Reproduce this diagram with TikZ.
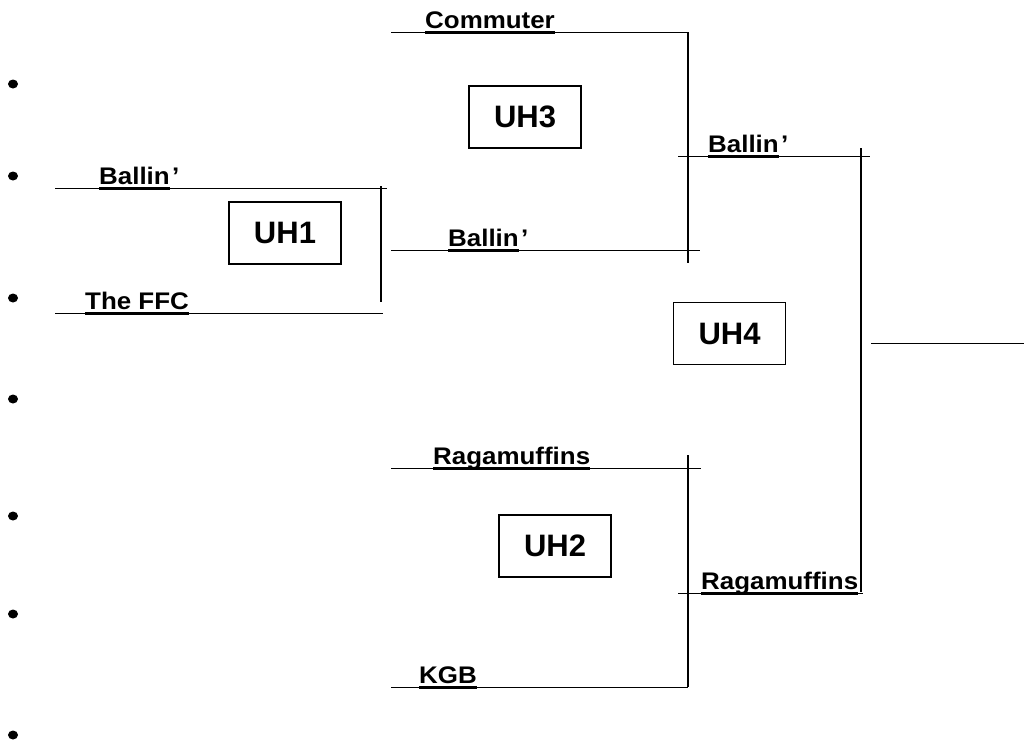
\documentclass[tikz,border=0pt]{standalone}
\usepackage{fontspec}
\setmainfont{Liberation Sans}
\newfontfamily\teamfont[FakeStretch=1.08]{Liberation Sans}
\usetikzlibrary{positioning}
\usetikzlibrary{shapes.geometric}

\begin{document}
\begin{tikzpicture}[x=1pt,y=-1pt,
  rule/.style={line width=0.8pt},
  bar/.style={line width=1.5pt},
  uline/.style={line width=3pt},
  team/.style={anchor=base west,inner sep=0pt,font=\teamfont\bfseries\fontsize{24}{28}\selectfont},
  uhbox/.style={draw,line width=1.2pt,minimum width=112pt,minimum height=62pt,inner sep=0pt,font=\bfseries\fontsize{31}{36}\selectfont},
  dot/.style={ellipse,fill,inner sep=0pt,minimum width=10pt,minimum height=9pt}]
  \useasboundingbox (0,0) rectangle (1024,747);

  % bullets down the left
  \node[dot, name=d1] at (13,84) {};
  \node[dot, name=d2] at (13,176) {};
  \node[dot, name=d3] at (13,298) {};
  \node[dot, name=d4] at (13,399) {};
  \node[dot, name=d5] at (13,516) {};
  \node[dot, name=d6] at (13,614) {};
  \node[dot, name=d7] at (13,735) {};

  % line ends
  \coordinate (l1w) at (55,188);   \coordinate (l1e) at (387,188);
  \coordinate (l2w) at (55,313);   \coordinate (l2e) at (383,313);
  \coordinate (l3w) at (391,32);   \coordinate (l3e) at (688,32);
  \coordinate (l4w) at (391,250);  \coordinate (l4e) at (700,250);
  \coordinate (l5w) at (678,156);  \coordinate (l5e) at (870,156);
  \coordinate (l6w) at (391,468);  \coordinate (l6e) at (701,468);
  \coordinate (l7w) at (678,593);  \coordinate (l7e) at (863,593);
  \coordinate (l8w) at (391,687);  \coordinate (l8e) at (688,687);
  \coordinate (l9w) at (871,343);  \coordinate (l9e) at (1024,343);

  \coordinate (v1t) at (381,186);  \coordinate (v1b) at (381,302);
  \coordinate (v2t) at (688,32);   \coordinate (v2b) at (688,263);
  \coordinate (v3t) at (688,455);  \coordinate (v3b) at (688,687);
  \coordinate (v4t) at (861,148);  \coordinate (v4b) at (861,592);

  \draw[rule] (l1w) -- (l1e);
  \draw[rule] (l2w) -- (l2e);
  \draw[rule] (l3w) -- (l3e);
  \draw[rule] (l4w) -- (l4e);
  \draw[rule] (l5w) -- (l5e);
  \draw[rule] (l6w) -- (l6e);
  \draw[rule] (l7w) -- (l7e);
  \draw[rule] (l8w) -- (l8e);
  \draw[rule] (l9w) -- (l9e);

  \draw[bar] (v1t) -- (v1b);
  \draw[bar] (v2t) -- (v2b);
  \draw[bar] (v3t) -- (v3b);
  \draw[bar] (v4t) -- (v4b);

  % team names
  \node[team, name=t1] at (99,184) {Ballin};
  \node[team, name=t1a] at ([xshift=2pt]t1.base east) {’};
  \node[team, name=t2] at (85,309) {The FFC};
  \node[team, name=t3] at (425,28) {Commuter};
  \node[team, name=t4] at (448,246) {Ballin};
  \node[team, name=t4a] at ([xshift=2pt]t4.base east) {’};
  \node[team, name=t5] at (708,152) {Ballin};
  \node[team, name=t5a] at ([xshift=2pt]t5.base east) {’};
  \node[team, name=t6] at (433,464) {Ragamuffins};
  \node[team, name=t7] at (701,589) {Ragamuffins};
  \node[team, name=t8] at (419,683) {KGB};

  \draw[uline] (t1.base west |- l1w) -- (t1.base east |- l1w);
  \draw[uline] (t2.base west |- l2w) -- (t2.base east |- l2w);
  \draw[uline] (t3.base west |- l3w) -- (t3.base east |- l3w);
  \draw[uline] (t4.base west |- l4w) -- (t4.base east |- l4w);
  \draw[uline] (t5.base west |- l5w) -- (t5.base east |- l5w);
  \draw[uline] (t6.base west |- l6w) -- (t6.base east |- l6w);
  \draw[uline] (t7.base west |- l7w) -- (t7.base east |- l7w);
  \draw[uline] (t8.base west |- l8w) -- (t8.base east |- l8w);

  % game boxes
  \node[uhbox, name=uh1] at (285,233) {UH1};
  \node[uhbox, name=uh3] at (525,117) {UH3};
  \node[uhbox, name=uh4] at (729.5,333.5) {UH4};
  \node[uhbox, name=uh2] at (555,546) {UH2};
\end{tikzpicture}
\end{document}
